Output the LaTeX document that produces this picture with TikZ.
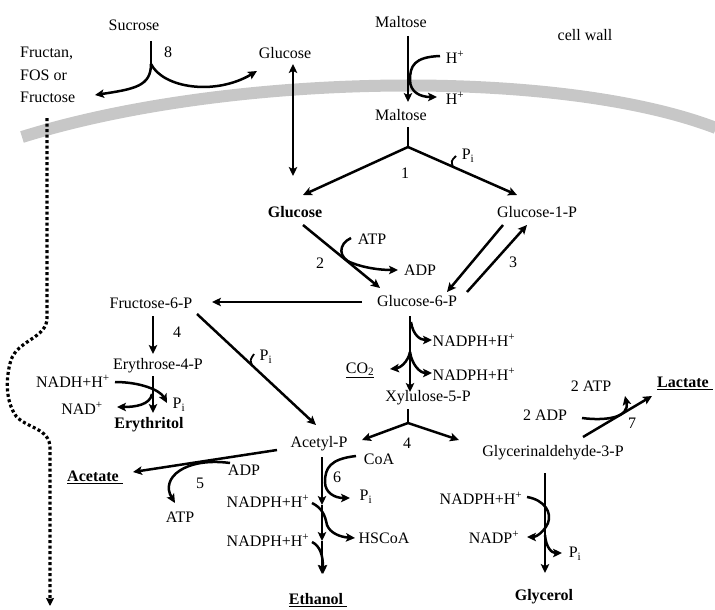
\documentclass[tikz,border=0pt]{standalone}
\usepackage{fontspec}
\setmainfont{Liberation Serif}
\usetikzlibrary{arrows.meta}
\begin{document}
\begin{tikzpicture}[x=1pt,y=-1pt,
  lbl/.style={inner sep=0pt, font=\fontsize{16}{20}\selectfont},
  bl/.style={inner sep=0pt, font=\fontsize{16}{20}\selectfont\bfseries},
  con/.style={line width=2.5pt},
  arr/.style={con, -{Stealth[length=9pt,width=8.5pt,inset=2pt]}},
  darr/.style={con, {Stealth[length=9pt,width=8.5pt,inset=2pt]}-{Stealth[length=9pt,width=8.5pt,inset=2pt]}},
  dotarr/.style={line width=3.2pt, dash pattern=on 3pt off 2.5pt, -{Stealth[length=8pt,width=8pt,inset=1pt]}},
  wallstyle/.style={line width=12pt, draw=black!22}]
\useasboundingbox (0,0) rectangle (715,610);
% cell wall
\draw[wallstyle] (22,137) .. controls (230,72) and (560,68) .. (716,128);
% labels
\node[lbl] (suc) at (134,25) {Sucrose};
\node[lbl] (eight) at (168,52) {8};
\node[inner sep=0pt, font=\fontsize{16}{22.5}\selectfont, align=left, anchor=west] (fr) at (20,75) {Fructan,\\FOS or\\Fructose};
\node[lbl] (glcout) at (285,53) {Glucose};
\node[lbl] (malt1) at (401,22) {Maltose};
\node[lbl] (hp1) at (455,57) {H\textsuperscript{+}};
\node[lbl] (hp2) at (455,98) {H\textsuperscript{+}};
\node[lbl] (wall) at (585,35) {cell wall};
\node[lbl] (malt2) at (401,115) {Maltose};
\node[lbl] (one) at (405,173) {1};
\node[lbl] (pi1) at (468,156) {P\textsubscript{i}};
\node[bl] (glcin) at (295,212) {Glucose};
\node[lbl] (g1p) at (537,212) {Glucose-1-P};
\node[lbl] (atp1) at (372,239) {ATP};
\node[lbl] (adp1) at (420,270) {ADP};
\node[lbl] (two) at (320,263) {2};
\node[lbl] (three) at (513,262) {3};
\node[lbl] (g6p) at (417,301) {Glucose-6-P};
\node[lbl] (f6p) at (151,303) {Fructose-6-P};
\node[lbl] (four1) at (177,332) {4};
\node[lbl] (e4p) at (158,366) {Erythrose-4-P};
\node[lbl] (pi2) at (266,357) {P\textsubscript{i}};
\node[lbl] (nadh) at (73,381) {NADH+H\textsuperscript{+}};
\node[lbl] (nad) at (82,408) {NAD\textsuperscript{+}};
\node[lbl] (pi3) at (179,405) {P\textsubscript{i}};
\node[bl] (eryt) at (149,425) {Erythritol};
\node[lbl] (co2) at (360,370) {\underline{CO\textsubscript{2}}};
\node[lbl] (nadph1) at (474,340) {NADPH+H\textsuperscript{+}};
\node[lbl] (nadph2) at (474,374) {NADPH+H\textsuperscript{+}};
\node[lbl] (x5p) at (428,398) {Xylulose-5-P};
\node[lbl] (four2) at (407,443) {4};
\node[lbl] (acp) at (319,444) {Acetyl-P};
\node[lbl] (coa) at (379,459) {CoA};
\node[lbl] (gap) at (553,453) {Glycerinaldehyde-3-P};
\node[bl] (acetate) at (95,477) {\underline{Acetate\ }};
\node[lbl] (adp2) at (244,470) {ADP};
\node[lbl] (five) at (200,483) {5};
\node[lbl] (atp2) at (180,517) {ATP};
\node[lbl] (six) at (337,477) {6};
\node[lbl] (pi4) at (366,497) {P\textsubscript{i}};
\node[lbl] (nadph3) at (268,501) {NADPH+H\textsuperscript{+}};
\node[lbl] (nadph4) at (268,540) {NADPH+H\textsuperscript{+}};
\node[lbl] (hscoa) at (384,538) {HSCoA};
\node[bl] (ethanol) at (318,600) {\underline{Ethanol\ }};
\node[lbl] (nadph5) at (481,498) {NADPH+H\textsuperscript{+}};
\node[lbl] (nadp) at (494,537) {NADP\textsuperscript{+}};
\node[lbl] (pi5) at (575,554) {P\textsubscript{i}};
\node[bl] (glycerol) at (544,597) {Glycerol};
\node[lbl] (adp3) at (545,415) {2 ADP};
\node[lbl] (atp3) at (591,386) {2 ATP};
\node[lbl] (seven) at (632,423) {7};
\node[bl] (lactate) at (685,383) {\underline{Lactate\ }};
% coordinates
\coordinate (s0) at (151,41);
\coordinate (s1) at (151,64);
\coordinate (frtip) at (95,95);
\coordinate (gotip) at (257,71);
\coordinate (gvt) at (293,64);
\coordinate (gvb) at (293,176);
\coordinate (m0) at (408,36);
\coordinate (m1) at (408,102);
\coordinate (h1) at (440,56);
\coordinate (h2) at (437,97);
\coordinate (mb0) at (408,127);
\coordinate (mbj) at (408,147);
\coordinate (mbl) at (303,195);
\coordinate (mbr) at (517,195);
\coordinate (g2a) at (303,225);
\coordinate (g2b) at (380,288);
\coordinate (atp1s) at (351,238);
\coordinate (adp1t) at (398,270);
\coordinate (g3a) at (503,225);
\coordinate (g3b) at (447,292);
\coordinate (g3c) at (467,292);
\coordinate (g3d) at (527,225);
\coordinate (gf0) at (362,302);
\coordinate (gf1) at (212,302);
\coordinate (fe0) at (153,316);
\coordinate (fe1) at (153,354);
\coordinate (fa0) at (197,314);
\coordinate (fa1) at (316,425);
\coordinate (ee0) at (153,376);
\coordinate (ee1) at (153,413);
\coordinate (x0) at (410,316);
\coordinate (x1) at (410,392);
\coordinate (xb0) at (408,409);
\coordinate (xbj) at (408,423);
\coordinate (xbl) at (362,440);
\coordinate (xbr) at (459,440);
\coordinate (aa0) at (277,450);
\coordinate (aa1) at (133,472);
\coordinate (et0) at (322,457);
\coordinate (et1) at (322,505);
\coordinate (et2) at (322,541);
\coordinate (et3) at (322,574);
\coordinate (gl0) at (545,473);
\coordinate (gl1) at (545,573);
\coordinate (la0) at (583,437);
\coordinate (la1) at (652,396);
% connectors
\draw[con] (s0) -- (s1);
\draw[arr] (s1) .. controls (151,86) and (135,89) .. (frtip);
\draw[arr] (s1) .. controls (163,88) and (215,96) .. (gotip);
\draw[darr] (gvt) -- (gvb);
\draw[arr] (m0) -- (m1);
\draw[arr] (h1) .. controls (414,57) and (410,66) .. (410,80) .. controls (410,92) and (420,97) .. (h2);
\draw[con] (mb0) -- (mbj);
\draw[arr] (mbj) -- (mbl);
\draw[arr] (mbj) -- (mbr);
\draw[con, line width=1.8pt] (453,167) .. controls (451,161) .. (456,156);
\draw[arr] (g2a) -- (g2b);
\draw[arr] (atp1s) .. controls (338,244) and (338,258) .. (352,263) .. controls (365,268) and (380,270) .. (adp1t);
\draw[arr] (g3a) -- (g3b);
\draw[arr] (g3c) -- (g3d);
\draw[arr] (gf0) -- (gf1);
\draw[arr] (fe0) -- (fe1);
\draw[arr] (fa0) -- (fa1);
\draw[con, line width=1.8pt] (252,365) .. controls (250,360) .. (254,354);
\draw[arr] (ee0) -- (ee1);
\draw[arr] (115,382) .. controls (140,382) and (160,390) .. (167,403);
\draw[arr] (152,394) .. controls (150,405) and (135,407) .. (117,407);
\draw[dotarr] (47,118) -- (47,318) .. controls (47,338) and (18,340) .. (11,360) .. controls (5,380) and (6,402) .. (16,416) .. controls (26,428) and (50,428) .. (50,448) -- (50,606);
\draw[arr] (x0) -- (x1);
\draw[arr] (411,322) .. controls (413,335) and (420,340) .. (432,340);
\draw[arr] (410,352) .. controls (408,362) and (400,368) .. (390,369);
\draw[arr] (410,352) .. controls (412,365) and (420,373) .. (432,373);
\draw[con] (xb0) -- (xbj);
\draw[arr] (xbj) -- (xbl);
\draw[arr] (xbj) -- (xbr);
\draw[arr] (aa0) -- (aa1);
\draw[arr] (230,463) .. controls (185,457) and (160,478) .. (175,503);
\draw[arr] (et0) -- (et1);
\draw[arr] (et1) -- (et2);
\draw[arr] (et2) -- (et3);
\draw[arr] (356,456) .. controls (330,459) and (325,468) .. (325,482) .. controls (325,493) and (335,498) .. (350,498);
\draw[arr] (312,503) .. controls (322,508) and (325,515) .. (327,525) .. controls (330,533) and (340,537) .. (355,538);
\draw[arr] (312,542) .. controls (320,546) and (323,555) .. (323,574);
\draw[arr] (gl0) -- (gl1);
\draw[arr] (527,497) .. controls (545,500) and (552,513) .. (548,523) .. controls (544,532) and (536,537) .. (527,537);
\draw[arr] (545,535) .. controls (546,548) and (552,553) .. (562,553);
\draw[arr] (la0) -- (la1);
\draw[arr] (582,418) .. controls (605,421) and (630,418) .. (625,396);
\end{tikzpicture}
\end{document}
